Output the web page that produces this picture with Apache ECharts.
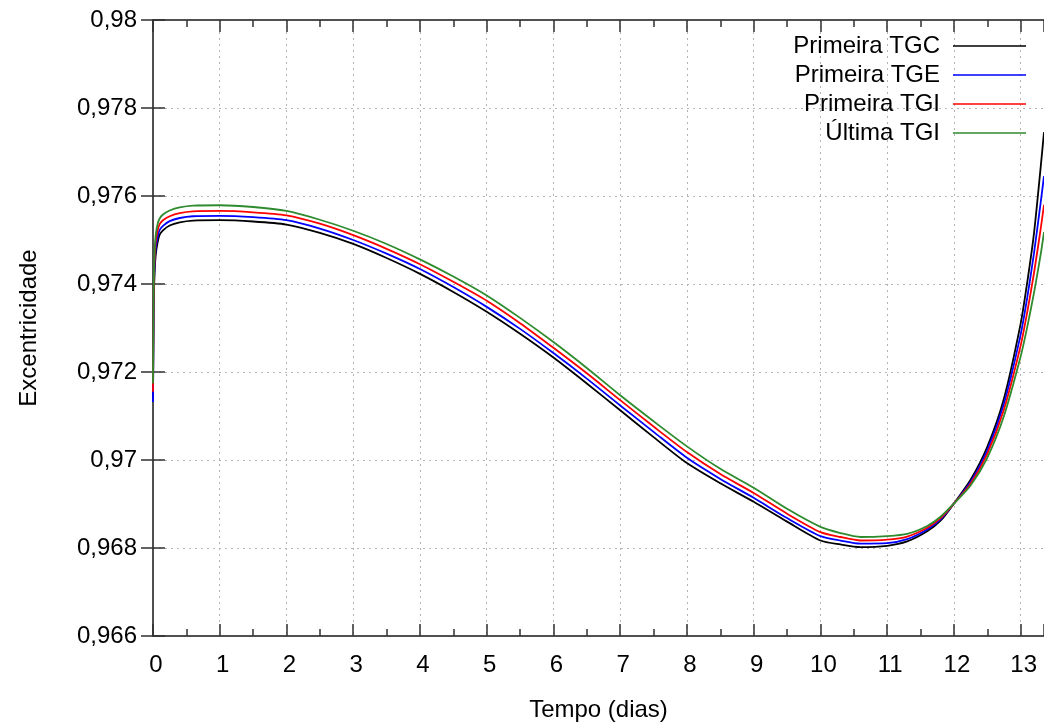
<!DOCTYPE html>
<html><head><meta charset="utf-8">
<script src="https://cdn.jsdelivr.net/npm/echarts@6/dist/echarts.min.js"></script>
<style>html,body{margin:0;padding:0;background:#fff}#c{width:1044px;height:724px}</style>
</head><body><div id="c"></div>
<script>
const days = [0, 0.005, 0.01, 0.02, 0.04, 0.07, 0.1, 0.15, 0.25, 0.4,
  0.6, 1, 1.5, 2, 2.5, 3, 3.5, 4, 4.5, 5,
  5.5, 6, 6.5, 7, 7.5, 8, 8.5, 9, 9.5, 10,
  10.3, 10.6, 11, 11.3, 11.6, 11.8, 12, 12.25, 12.5, 12.75,
  13, 13.1, 13.2, 13.3, 13.35];
const primeiraTGC = [.97140,.97240,.97330,.97410,.97465,.97495,.97512,.97522,.97533,.97540,
  .97544,.97545,.97542,.97535,.97516,.97491,.97459,.97423,.97382,.97337,
  .97287,.97233,.97174,.97113,.97052,.96993,.96947,.96905,.96860,.96817,
  .96808,.96802,.96805,.96815,.96838,.96862,.96901,.96955,.97030,.97140,
  .97310,.97405,.97515,.97665,.97745];
const primeiraTGE = [.97132,.97250,.97350,.97425,.97480,.97508,.97523,.97532,.97543,.97550,
  .97554,.97555,.97552,.97545,.97526,.97500,.97469,.97434,.97393,.97348,
  .97298,.97243,.97185,.97124,.97064,.97005,.96957,.96914,.96868,.96827,
  .96817,.96810,.96811,.96820,.96842,.96865,.96901,.96950,.97022,.97128,
  .97285,.97370,.97470,.97585,.97645];
const primeiraTGI = [.97155,.97270,.97370,.97440,.97495,.97522,.97536,.97545,.97554,.97561,
  .97565,.97566,.97563,.97556,.97537,.97511,.97480,.97445,.97405,.97362,
  .97311,.97255,.97197,.97136,.97076,.97018,.96968,.96925,.96878,.96836,
  .96825,.96817,.96819,.96826,.96846,.96868,.96901,.96946,.97014,.97115,
  .97260,.97337,.97425,.97525,.97580];
const ultimaTGI = [.97174,.97290,.97390,.97460,.97510,.97537,.97549,.97558,.97567,.97574,
  .97578,.97579,.97575,.97566,.97546,.97521,.97491,.97456,.97417,.97374,
  .97323,.97268,.97209,.97147,.97088,.97031,.96980,.96937,.96889,.96848,
  .96834,.96825,.96827,.96832,.96850,.96871,.96901,.96942,.97005,.97100,
  .97235,.97303,.97380,.97467,.97518];
const seriesNames = ['Primeira TGC', 'Primeira TGE', 'Primeira TGI', 'Última TGI'];
const seriesValues = [primeiraTGC, primeiraTGE, primeiraTGI, ultimaTGI];
const seriesColors = ['#000000', '#0000ff', '#ff0000', '#2e8b2e'];
const xTitle = 'Tempo (dias)';
const yTitle = 'Excentricidade';

const FONT = '"Liberation Sans", Arial, sans-serif';
const chart = echarts.init(document.getElementById('c'), null, {renderer: 'canvas'});
const axisLineStyle = {color: '#505050', width: 2};
const tickStyle = {color: '#303030', width: 1.5};
const splitStyle = {color: '#b4b4b4', width: 1, type: [2, 4]};

const legendTops = [34, 63, 92, 121];
const legends = seriesNames.map((n, i) => ({
  data: [n], orient: 'vertical', right: 18, top: legendTops[i], padding: 0,
  align: 'right', icon: 'rect', itemWidth: 73, itemHeight: 1.6,
  selectedMode: false,
  textStyle: {fontFamily: FONT, fontSize: 24, color: '#000', lineHeight: 24, padding: [0, 8, 0, 0]}
}));

chart.setOption({
  animation: false,
  backgroundColor: '#fff',
  grid: {left: 153, right: 0, top: 20, bottom: 88, containLabel: false, outerBoundsMode: 'none'},
  legend: legends,
  xAxis: [{
    type: 'value', min: 0, max: 13.35, interval: 1, position: 'bottom',
    name: xTitle, nameLocation: 'middle', nameGap: 62,
    nameTextStyle: {fontFamily: FONT, fontSize: 24, color: '#000'},
    axisLine: {show: true, lineStyle: axisLineStyle},
    axisTick: {show: true, inside: true, length: 12, lineStyle: tickStyle},
    minorTick: {show: true, splitNumber: 2, length: 7, lineStyle: tickStyle},
    splitLine: {show: true, lineStyle: splitStyle},
    axisLabel: {fontFamily: FONT, fontSize: 24, color: '#000', margin: 17, showMaxLabel: false,
      padding: [0, 0, 0, 6],
      formatter: v => (Math.abs(v - Math.round(v)) < 1e-6 ? String(Math.round(v)) : '')}
  }, {
    type: 'value', min: 0, max: 13.35, interval: 1, position: 'top',
    axisLine: {show: true, lineStyle: axisLineStyle},
    axisTick: {show: true, inside: true, length: 12, lineStyle: tickStyle},
    minorTick: {show: true, splitNumber: 2, length: 7, lineStyle: tickStyle},
    splitLine: {show: false}, axisLabel: {show: false}
  }],
  yAxis: [{
    type: 'value', min: 0.966, max: 0.98, interval: 0.002, position: 'left',
    name: yTitle, nameLocation: 'middle', nameGap: 112, nameRotate: 90,
    nameTextStyle: {fontFamily: FONT, fontSize: 24, color: '#000'},
    axisLine: {show: true, lineStyle: axisLineStyle},
    axisTick: {show: true, inside: true, length: 12, lineStyle: tickStyle},
    splitLine: {show: true, lineStyle: splitStyle},
    axisLabel: {fontFamily: FONT, fontSize: 24, color: '#000', margin: 16,
      formatter: v => String(parseFloat(v.toFixed(3))).replace('.', ',')}
  }, {
    type: 'value', min: 0.966, max: 0.98, interval: 0.002, position: 'right',
    axisLine: {show: true, lineStyle: axisLineStyle},
    axisTick: {show: true, inside: true, length: 12, lineStyle: tickStyle},
    splitLine: {show: false}, axisLabel: {show: false}
  }],
  series: seriesNames.map((n, i) => ({
    name: n, type: 'line', xAxisIndex: 0, yAxisIndex: 0,
    data: days.map((d, k) => [d, seriesValues[i][k]]),
    showSymbol: false, smooth: 0.25, clip: true,
    color: seriesColors[i],
    lineStyle: {color: seriesColors[i], width: 1.8}
  }))
});
</script></body></html>
